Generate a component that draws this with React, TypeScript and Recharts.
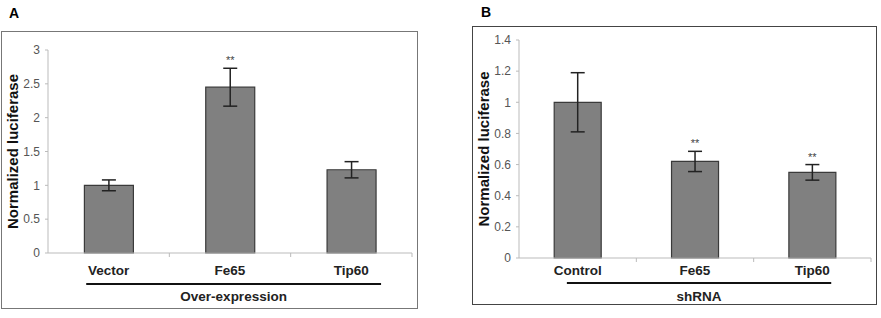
import React from 'react';
import { BarChart, Bar, XAxis, YAxis, ErrorBar, LabelList } from 'recharts';

// panel A: over-expression
const overCategories = ['Vector', 'Fe65', 'Tip60'];
const overValues = [1.0, 2.45, 1.23];
const overErrors = [0.08, 0.28, 0.12];
const overStars = ['', '**', ''];
const overTicks = [0, 0.5, 1, 1.5, 2, 2.5, 3];

// panel B: shRNA knockdown
const shCategories = ['Control', 'Fe65', 'Tip60'];
const shValues = [1.0, 0.62, 0.55];
const shErrors = [0.19, 0.065, 0.05];
const shStars = ['', '**', '**'];
const shTicks = [0, 0.2, 0.4, 0.6, 0.8, 1, 1.2, 1.4];

const FONT = '"Liberation Sans", Arial, sans-serif';

const buildRows = (cats: string[], vals: number[], errs: number[], stars: string[]) =>
  cats.map((name, i) => ({ name, value: vals[i], err: errs[i], star: stars[i] }));

const CategoryTick = (props: any) => {
  const { x, y, payload, dy } = props;
  return (
    <text x={x} y={y + dy} textAnchor="middle" fontFamily={FONT} fontWeight="bold" fontSize={13.5} fill="#222">
      {payload.value}
    </text>
  );
};

// boundary ticks, group underline and group name, all from the axis viewBox
const groupLabel = (group: string, n: number, lineFrom: number, lineTo: number, lineDy: number, textDy: number) => (props: any) => {
  const { viewBox } = props;
  const { x, y, width } = viewBox;
  const step = width / n;
  const marks = [];
  for (let i = 1; i <= n; i++) {
    marks.push(
      <line key={i} x1={x + step * i} x2={x + step * i} y1={y} y2={y + 4} stroke="#bbb" strokeWidth={1} />
    );
  }
  return (
    <g>
      {marks}
      <line x1={x + width * lineFrom} x2={x + width * lineTo} y1={y + lineDy} y2={y + lineDy} stroke="#111" strokeWidth={2} />
      <text x={x + width * (lineFrom + lineTo) / 2} y={y + textDy} textAnchor="middle" fontFamily={FONT} fontWeight="bold" fontSize={13.5} fill="#222">
        {group}
      </text>
    </g>
  );
};

const yLabel = (dx: number) => (props: any) => {
  const { viewBox } = props;
  const cx = viewBox.x + dx;
  const cy = viewBox.y + viewBox.height / 2;
  return (
    <text x={cx} y={cy} transform={`rotate(-90 ${cx} ${cy})`} textAnchor="middle" dominantBaseline="central"
      fontFamily={FONT} fontWeight="bold" fontSize={15} fill="#111">
      Normalized luciferase
    </text>
  );
};

const starLabel = (stars: string[], errs: number[]) => (props: any) => {
  const { x, y, width, height, value, index } = props;
  const s = stars[index];
  if (!s) return null;
  const perUnit = height / value;
  const top = y - errs[index] * perUnit;
  return (
    <text x={x + width / 2} y={top - 4} textAnchor="middle" fontFamily={FONT} fontSize={11} fill="#444">
      {s}
    </text>
  );
};

interface PanelProps {
  rows: any[];
  ticks: number[];
  max: number;
  margin: { top: number; right: number; bottom: number; left: number };
  group: string;
  lineFrom: number;
  lineTo: number;
  tickDy: number;
  lineDy: number;
  textDy: number;
  labelDx: number;
  stars: string[];
  errs: number[];
}

const Panel: React.FC<PanelProps> = ({ rows, ticks, max, margin, group, lineFrom, lineTo, tickDy, lineDy, textDy, labelDx, stars, errs }) => (
  <BarChart width={440} height={318} data={rows} margin={margin} barCategoryGap="30%">
    <XAxis
      dataKey="name"
      axisLine={{ stroke: '#bbb' }}
      tickLine={false}
      tick={<CategoryTick dy={tickDy} />}
      height={50}
      interval={0}
      label={{ content: groupLabel(group, rows.length, lineFrom, lineTo, lineDy, textDy) } as any}
    />
    <YAxis
      type="number"
      domain={[0, max]}
      ticks={ticks}
      width={30}
      tickSize={3}
      tickMargin={5}
      axisLine={{ stroke: '#bbb' }}
      tickLine={{ stroke: '#bbb' }}
      tick={{ fontFamily: FONT, fontSize: 12, fill: '#555' }}
      label={{ content: yLabel(labelDx) } as any}
    />
    <Bar dataKey="value" fill="#808080" stroke="#3a3a3a" strokeWidth={1.2} isAnimationActive={false}>
      <ErrorBar dataKey="err" width={7} stroke="#222" strokeWidth={1.5} />
      <LabelList dataKey="value" content={starLabel(stars, errs)} />
    </Bar>
  </BarChart>
);

export default function App() {
  const rowsA = buildRows(overCategories, overValues, overErrors, overStars);
  const rowsB = buildRows(shCategories, shValues, shErrors, shStars);
  return (
    <div style={{ position: 'absolute', left: 0, top: 0, width: 881, height: 318, background: '#fff', overflow: 'hidden' }}>
      <div style={{ position: 'absolute', left: 1, top: 31, width: 417, height: 278, border: '1.5px solid #777', boxSizing: 'border-box' }} />
      <div style={{ position: 'absolute', left: 472, top: 26, width: 405, height: 279, border: '1.5px solid #444', boxSizing: 'border-box' }} />
      <div style={{ position: 'absolute', left: 9, top: 5, fontFamily: FONT, fontWeight: 'bold', fontSize: 14 }}>A</div>
      <div style={{ position: 'absolute', left: 481, top: 4, fontFamily: FONT, fontWeight: 'bold', fontSize: 14 }}>B</div>
      <div style={{ position: 'absolute', left: 0, top: 0 }}>
        <Panel rows={rowsA} ticks={overTicks} max={3} margin={{ top: 50, right: 28, bottom: 15, left: 18 }}
          group="Over-expression" lineFrom={0.105} lineTo={0.915} tickDy={14} lineDy={31} textDy={48}
          labelDx={-6} stars={overStars} errs={overErrors} />
      </div>
      <div style={{ position: 'absolute', left: 441, top: 0 }}>
        <Panel rows={rowsB} ticks={shTicks} max={1.4} margin={{ top: 40, right: 10, bottom: 10, left: 48 }}
          group="shRNA" lineFrom={0.136} lineTo={0.887} tickDy={9} lineDy={25} textDy={43}
          labelDx={-6} stars={shStars} errs={shErrors} />
      </div>
    </div>
  );
}
